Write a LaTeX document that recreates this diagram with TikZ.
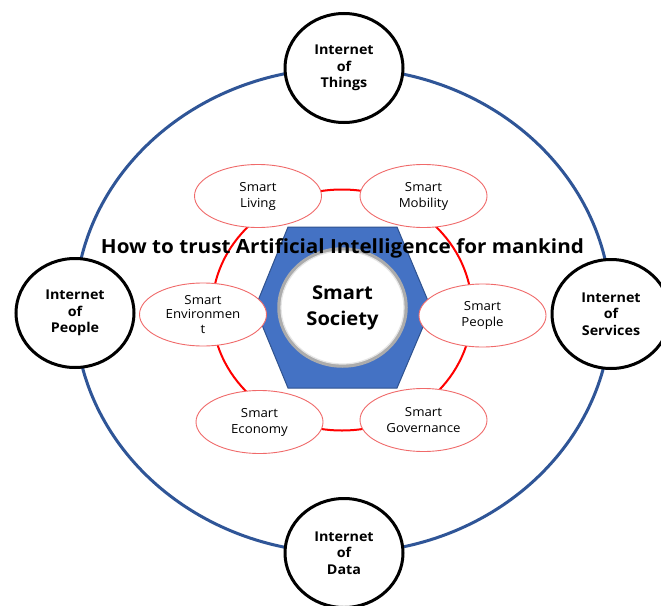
\documentclass[tikz,border=0pt]{standalone}
\usepackage{graphicx}
\usepackage{fontspec}
\setmainfont{Open Sans}[FakeStretch=1.06]
\usetikzlibrary{shapes.geometric}
\definecolor{ringblue}{HTML}{2F5597}
\definecolor{hexblue}{HTML}{4472C4}
\definecolor{hexedge}{HTML}{2F528F}
\definecolor{pinkred}{HTML}{F06A6A}
\begin{document}
\begin{tikzpicture}[x=1pt,y=-1pt,
  iotnode/.style={ellipse, draw=black, line width=3pt, fill=white,
    minimum width=118pt, minimum height=109pt, inner sep=0pt, align=center,
    font=\fontsize{13.5}{16.5}\selectfont\bfseries},
  smartnode/.style={ellipse, draw=pinkred, line width=0.9pt, fill=white,
    minimum width=127pt, minimum height=63pt, inner sep=0pt, align=center,
    font=\fontsize{12.5}{16}\selectfont},
  bigring/.style={ringblue, line width=3pt},
  redring/.style={red, line width=2pt},
]
\useasboundingbox (0,0) rectangle (661,605);
\clip (0,0) rectangle (661,605);
\fill[white] (0,0) rectangle (661,605);

% outer blue ring
\draw[bigring] (343,310.5) ellipse [x radius=268, y radius=242.5];

% internet nodes
\node[iotnode] (things)   at (344,68)  {Internet\\of\\Things};
\node[iotnode] (data)     at (344,553) {Internet\\of\\Data};
\node[iotnode] (people)   at (75,313)  {Internet\\of\\People};
\node[iotnode] (services) at (611,314) {Internet\\of\\Services};

% red ring
\draw[redring] (342,310) ellipse [x radius=130, y radius=120.5];

% hexagon
\filldraw[fill=hexblue, draw=hexedge, line width=1pt]
  (288,227) -- (397,227) -- (431,308) -- (397,388) -- (288,388) -- (255,308) -- cycle;

% smart society
\node[ellipse, draw=gray!65, line width=3.5pt, fill=white, minimum width=127pt,
  minimum height=117pt, inner sep=0pt, align=center,
  font=\fontsize{19}{26}\selectfont\bfseries] (society) at (342.5,307.5) {Smart\\Society};
\draw[gray!20, line width=1.2pt] (342.5,307.5) ellipse [x radius=61.5, y radius=56.5];

% smart ellipses
\node[smartnode] (living)  at (258,196)   {Smart\\Living};
\node[smartnode] (mobility) at (423.5,196) {Smart\\Mobility};
\node[smartnode, font=\fontsize{12.5}{14.5}\selectfont] (environment) at (203,314.5) {Smart\\Environmen\\t};
\node[smartnode] (speople) at (482.5,315.5) {Smart\\People};
\node[smartnode] (economy) at (259.5,422) {Smart\\Economy};
\node[smartnode] (governance) at (423.5,420) {Smart\\Governance};

% title
\node[inner sep=0pt] (title) at (342.5,248)
  {\resizebox{483pt}{!}{\bfseries How to trust Artificial Intelligence for mankind}};
\end{tikzpicture}
\end{document}
